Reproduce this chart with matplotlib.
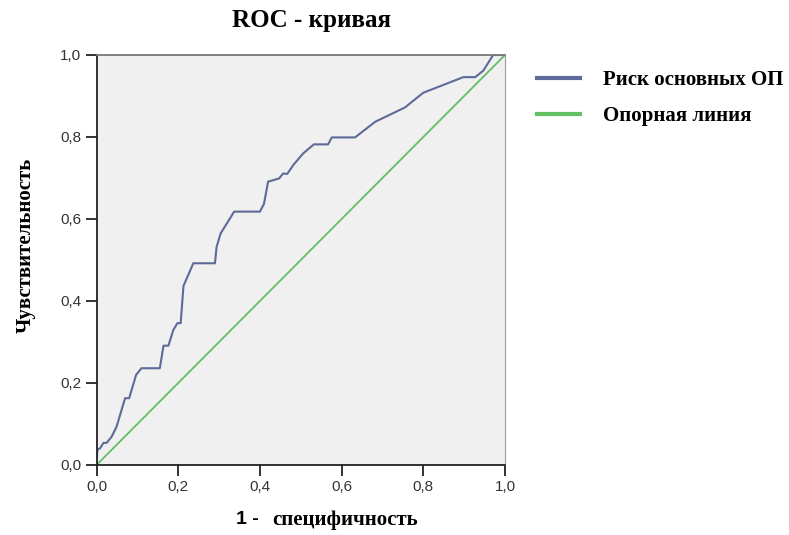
import matplotlib
matplotlib.use("Agg")
import matplotlib.pyplot as plt

# ROC curve points (1 - specificity, sensitivity)
fpr = [0.0, 0.002, 0.009, 0.017, 0.025, 0.037, 0.049, 0.070, 0.080, 0.097, 0.110,
       0.155, 0.164, 0.176, 0.188, 0.198, 0.206, 0.213, 0.237, 0.290, 0.294, 0.304,
       0.337, 0.400, 0.410, 0.420, 0.447, 0.457, 0.467, 0.482, 0.506, 0.532, 0.567,
       0.576, 0.633, 0.682, 0.755, 0.800, 0.898, 0.927, 0.947, 0.971, 1.0]
tpr = [0.0, 0.037, 0.041, 0.054, 0.054, 0.069, 0.093, 0.163, 0.163, 0.220, 0.236,
       0.236, 0.291, 0.291, 0.329, 0.346, 0.346, 0.437, 0.492, 0.492, 0.532, 0.565,
       0.618, 0.618, 0.637, 0.691, 0.699, 0.711, 0.710, 0.732, 0.760, 0.782, 0.782,
       0.799, 0.799, 0.837, 0.872, 0.908, 0.946, 0.946, 0.962, 1.0, 1.0]
ref_x = [0.0, 1.0]
ref_y = [0.0, 1.0]
ticks = [0.0, 0.2, 0.4, 0.6, 0.8, 1.0]
tick_labels = ["0,0", "0,2", "0,4", "0,6", "0,8", "1,0"]

title = "ROC - кривая"
xlabel_a = "1 - "
xlabel_b = "специфичность"
ylabel = "Чувствительность"
legend_labels = ["Риск основных ОП", "Опорная линия"]

serif = ["Liberation Serif", "DejaVu Serif"]
sans = ["Liberation Sans", "DejaVu Sans"]

fig = plt.figure(figsize=(7.89, 5.35), dpi=100)
ax = fig.add_axes([96.5 / 789, 70 / 535, (505 - 96.5) / 789, 410 / 535])
ax.set_facecolor("#f0f0f0")

l1, = ax.plot(fpr, tpr, color="#5e6a98", lw=1.5, solid_joinstyle="round")
l2, = ax.plot(ref_x, ref_y, color="#62bf62", lw=1.3)

ax.set_xlim(0, 1)
ax.set_ylim(0, 1)
ax.set_xticks(ticks)
ax.set_xticklabels(tick_labels, fontfamily=sans, fontsize=11, color="#333333")
ax.set_yticks(ticks)
ax.set_yticklabels(tick_labels, fontfamily=sans, fontsize=11, color="#333333")
ax.tick_params(direction="out", length=8, width=1.3, color="#222222", pad=3)

for s in ["left", "bottom"]:
    ax.spines[s].set_color("#222222")
    ax.spines[s].set_linewidth(1.3)
ax.spines["top"].set_color("#777777")
ax.spines["top"].set_linewidth(1.3)
ax.spines["right"].set_color("#999999")
ax.spines["right"].set_linewidth(0.8)

fig.text(311 / 789, 1 - 20 / 535, title, ha="center", va="center",
         fontfamily=serif, fontweight="bold", fontsize=18)
fig.text(26 / 789, 1 - 245 / 535, ylabel, ha="center", va="center", rotation=90,
         fontfamily=serif, fontweight="bold", fontsize=15)
fig.text(264 / 789, 1 - 519 / 535, xlabel_a, ha="right", va="center",
         fontfamily=sans, fontweight="bold", fontsize=14)
fig.text(272 / 789, 1 - 520 / 535, xlabel_b, ha="left", va="center",
         fontfamily=serif, fontweight="bold", fontsize=15)

leg = fig.legend([l1, l2], legend_labels, loc="upper left",
                 bbox_to_anchor=(537 / 789, 1 - 70 / 535), frameon=False,
                 borderpad=0, borderaxespad=0,
                 prop={"family": serif, "weight": "bold", "size": 15},
                 handlelength=2.07, handletextpad=1.1, labelspacing=0.78)
for h in leg.legend_handles:
    h.set_linewidth(3)

fig.savefig("out.png", dpi=100)
